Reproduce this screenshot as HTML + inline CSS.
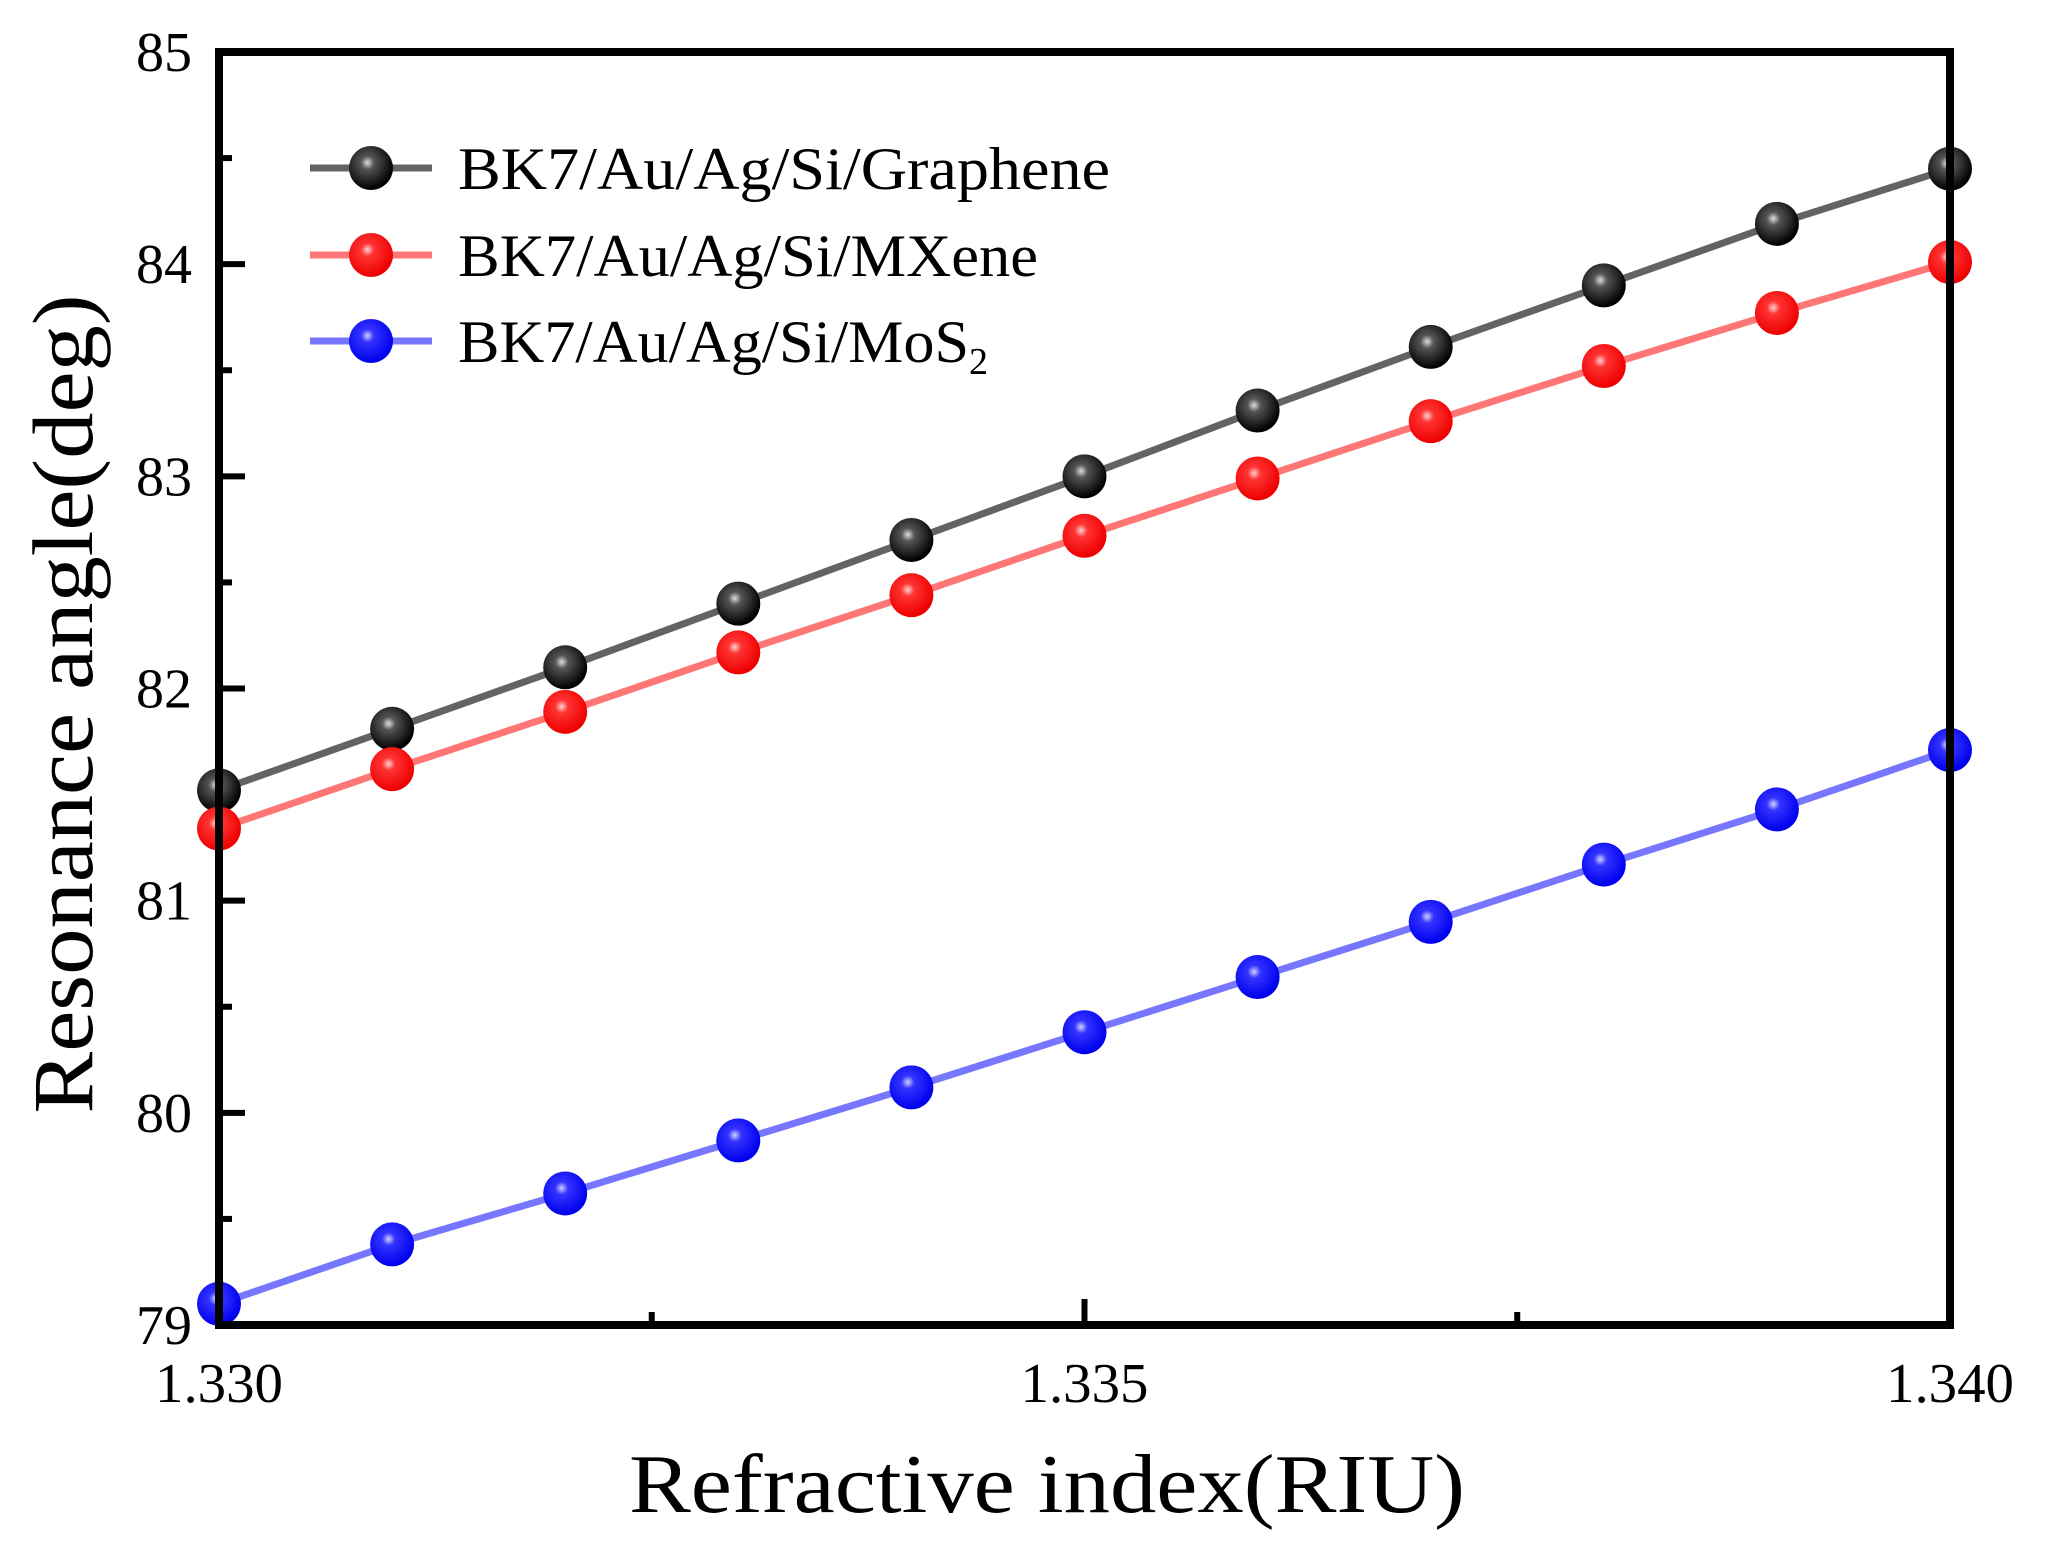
<!DOCTYPE html>
<html><head><meta charset="utf-8"><style>
html,body{margin:0;padding:0;background:#fff}
svg{display:block;font-family:"Liberation Serif",serif}
</style></head><body>
<svg id="chart" width="2045" height="1551" viewBox="0 0 2045 1551" xmlns="http://www.w3.org/2000/svg">
<defs>
<radialGradient id="gk" cx="0.42" cy="0.38" r="0.6"><stop offset="0" stop-color="#ddd"/><stop offset="0.25" stop-color="#555"/><stop offset="1" stop-color="#000"/></radialGradient>
<radialGradient id="gr" cx="0.42" cy="0.38" r="0.6"><stop offset="0" stop-color="#ffd0d0"/><stop offset="0.25" stop-color="#f33"/><stop offset="1" stop-color="#e00"/></radialGradient>
<radialGradient id="gb" cx="0.42" cy="0.38" r="0.6"><stop offset="0" stop-color="#d0d0ff"/><stop offset="0.25" stop-color="#33f"/><stop offset="1" stop-color="#00e"/></radialGradient>
</defs>
<g id="plot"></g>
</svg>
<script>
const xValues=[1.330,1.331,1.332,1.333,1.334,1.335,1.336,1.337,1.338,1.339,1.340];
const grapheneValues=[81.52,81.81,82.10,82.40,82.70,83.00,83.31,83.61,83.90,84.19,84.45];
const mxeneValues=[81.34,81.62,81.89,82.17,82.44,82.72,82.99,83.26,83.52,83.77,84.01];
const mos2Values=[79.10,79.38,79.62,79.87,80.12,80.38,80.64,80.90,81.17,81.43,81.71];
const yTickLabels=["79","80","81","82","83","84","85"];
const xTickLabels=["1.330","1.335","1.340"];
const xMinorTicks=[1.3325,1.3375];

const L=219,R=1950,T=52,B=1325;
const xMin=1.330,xMax=1.340,yMin=79,yMax=85;
const sx=v=>L+(v-xMin)/(xMax-xMin)*(R-L);
const sy=v=>B-(v-yMin)/(yMax-yMin)*(B-T);
const NS="http://www.w3.org/2000/svg";
const g=document.getElementById('plot');
function mk(tag,attrs,parent){const e=document.createElementNS(NS,tag);for(const k in attrs)e.setAttribute(k,attrs[k]);(parent||g).appendChild(e);return e;}

yTickLabels.forEach(t=>{
  const v=+t;const y=sy(v);
  const tk=mk('line',{x1:L,x2:L+26,y1:y,y2:y,stroke:'#000','stroke-width':6});
  
  
  const lb=mk('text',{x:192,y:y+19,'text-anchor':'end','font-size':56});
  lb.textContent=t;
  
  
  if(v<yMax){const ym=sy(v+0.5);
    const mt=mk('line',{x1:L,x2:L+13,y1:ym,y2:ym,stroke:'#000','stroke-width':6});
    
    }
});
xTickLabels.forEach(t=>{
  const x=sx(+t);
  const tk=mk('line',{x1:x,x2:x,y1:B,y2:B-26,stroke:'#000','stroke-width':6});
  
  
  const lb=mk('text',{x:x,y:1402,'text-anchor':'middle','font-size':56,textLength:128,lengthAdjust:'spacingAndGlyphs'});
  lb.textContent=t;
  
  
});
xMinorTicks.forEach(v=>{
  const x=sx(v);
  const mt=mk('line',{x1:x,x2:x,y1:B,y2:B-13,stroke:'#000','stroke-width':6});
  
  
});

const series=[
 {name:'graphene',vals:grapheneValues,line:'rgba(60,60,60,0.8)',grad:'url(#gk)',label:'BK7/Au/Ag/Si/Graphene',w:652},
 {name:'mxene',vals:mxeneValues,line:'rgba(255,60,60,0.7)',grad:'url(#gr)',label:'BK7/Au/Ag/Si/MXene',w:580},
 {name:'mos2',vals:mos2Values,line:'rgba(60,60,255,0.7)',grad:'url(#gb)',label:'BK7/Au/Ag/Si/MoS',w:511}
];
series.forEach(s=>{
  const pts=s.vals.map((v,i)=>sx(xValues[i])+','+sy(v)).join(' ');
  const pl=mk('polyline',{points:pts,fill:'none',stroke:s.line,'stroke-width':7});
  
  
  s.vals.forEach((v,i)=>{
    const c=mk('circle',{cx:sx(xValues[i]),cy:sy(v),r:22,fill:s.grad});
    
    
  });
});

const legY=[168,255,341];
series.forEach((s,i)=>{
  const y=legY[i];
  const ll=mk('line',{x1:310,x2:432,y1:y,y2:y,stroke:s.line,'stroke-width':7});
  
  
  const lc=mk('circle',{cx:371,cy:y,r:22,fill:s.grad});
  
  
  const tx=mk('text',{x:458,y:y+21,'font-size':60});
  const main=mk('tspan',{textLength:s.w,lengthAdjust:'spacingAndGlyphs'},tx);
  main.textContent=s.label;
  if(s.name==='mos2'){const sub=mk('tspan',{'font-size':38,dy:12},tx);sub.textContent='2';}
  
  
});

const fr=mk('rect',{x:L,y:T,width:R-L,height:B-T,fill:'none',stroke:'#000','stroke-width':8});



const xt=mk('text',{x:1047,y:1512,'text-anchor':'middle','font-size':84,textLength:836,lengthAdjust:'spacingAndGlyphs'});
xt.textContent='Refractive index(RIU)';


const yt=mk('text',{x:0,y:0,'text-anchor':'middle','font-size':86,textLength:819,lengthAdjust:'spacingAndGlyphs',transform:'translate(92,704) rotate(-90)'});
yt.textContent='Resonance angle(deg)';


</script>
</body></html>
